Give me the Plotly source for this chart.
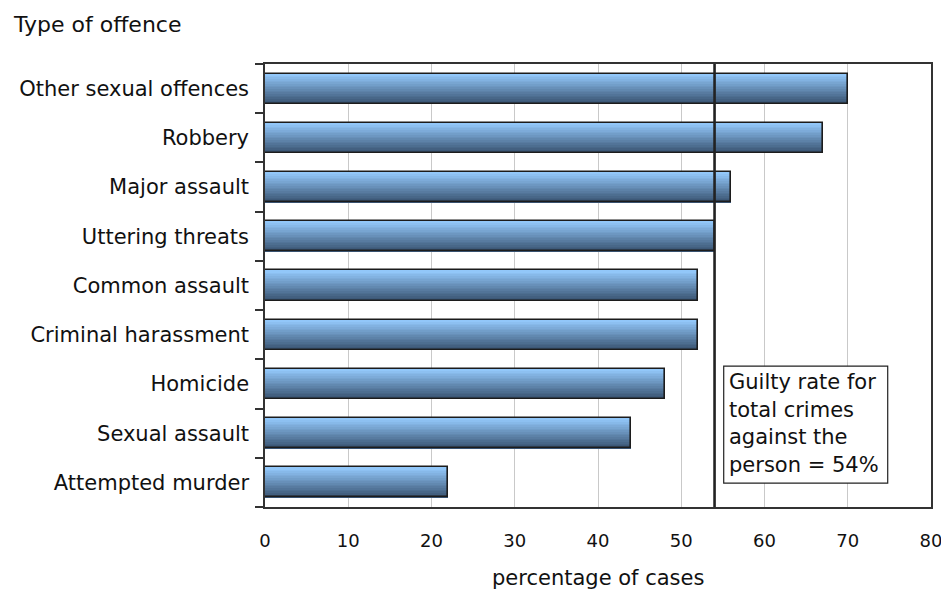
import plotly.graph_objects as go

# Offence categories, listed bottom to top as they appear on the axis
offences = [
    "Attempted murder",
    "Sexual assault",
    "Homicide",
    "Criminal harassment",
    "Common assault",
    "Uttering threats",
    "Major assault",
    "Robbery",
    "Other sexual offences",
]
guilty_pct = [22, 44, 48, 52, 52, 54, 56, 67, 70]
overall_rate = 54
x_ticks = [0, 10, 20, 30, 40, 50, 60, 70, 80]
note_lines = ["Guilty rate for", "total crimes", "against the", "person = 54%"]

FONT = "DejaVu Sans, Verdana, sans-serif"
FS = 21
BAR_W = 0.61
N_BANDS = 18
TOP_RGB = (146, 199, 249)
BOT_RGB = (56, 82, 112)

fig = go.Figure()

# Vertical gradient fill: stacked thin bands per bar, light at top, dark at bottom
for i in range(N_BANDS):
    t = i / (N_BANDS - 1)
    rgb = tuple(round(b + (a - b) * t) for a, b in zip(TOP_RGB, BOT_RGB))
    fig.add_trace(go.Bar(
        x=guilty_pct, y=offences, orientation="h",
        width=BAR_W / N_BANDS * 1.05,
        offset=-BAR_W / 2 + i * BAR_W / N_BANDS,
        marker=dict(color="rgb(%d,%d,%d)" % rgb, line=dict(width=0)),
        hoverinfo="skip", showlegend=False,
    ))

# Bar outlines
fig.add_trace(go.Bar(
    x=guilty_pct, y=offences, orientation="h", width=BAR_W,
    marker=dict(color="rgba(0,0,0,0)", line=dict(color="#1c1c1c", width=1.6)),
    showlegend=False,
))

# Reference line for the overall rate
fig.add_shape(type="line", xref="x", yref="paper", x0=overall_rate, x1=overall_rate,
              y0=0, y1=1, line=dict(color="#222222", width=2.6), layer="above")

# Note box next to the reference line
fig.add_shape(type="rect", xref="x", yref="paper", x0=55.1, x1=74.8,
              y0=0.054, y1=0.318, line=dict(color="#222222", width=1.2),
              fillcolor="white", layer="above")
line_y = [0.282, 0.219, 0.158, 0.095]
for txt, yy in zip(note_lines, line_y):
    fig.add_annotation(text=txt, xref="x", yref="paper", x=55.5, y=yy,
                       xanchor="left", yanchor="middle", showarrow=False,
                       font=dict(family=FONT, size=FS, color="#111111"))

# Axis titles
fig.add_annotation(text="Type of offence", xref="paper", yref="paper",
                   x=-254 / 666, y=(507 - 25) / 443, xanchor="left", yanchor="middle",
                   showarrow=False, font=dict(family=FONT, size=22, color="#111111"))
fig.add_annotation(text="percentage of cases", xref="paper", yref="paper",
                   x=0.5, y=-(578 - 507) / 443, xanchor="center", yanchor="middle",
                   showarrow=False, font=dict(family=FONT, size=FS, color="#111111"))

fig.update_layout(
    width=941, height=597,
    margin=dict(l=265, r=10, t=64, b=90, autoexpand=False),
    paper_bgcolor="white", plot_bgcolor="white",
    barmode="overlay", bargap=0,
    font=dict(family=FONT, size=FS, color="#111111"),
    showlegend=False,
)
fig.update_xaxes(
    range=[0, 80], tickvals=x_ticks, ticks="", showgrid=True,
    gridcolor="#c9c9c9", gridwidth=1, zeroline=False,
    showline=True, linecolor="#333333", linewidth=1.5, mirror=True,
    ticklabelstandoff=17, fixedrange=True, automargin=False,
    ticklabeloverflow="allow", tickfont=dict(size=18),
)
fig.update_yaxes(
    categoryorder="array", categoryarray=offences, tickson="boundaries",
    ticks="outside", ticklen=8, tickcolor="#333333", tickwidth=1.5,
    showgrid=False, zeroline=False,
    showline=True, linecolor="#333333", linewidth=1.5, mirror=True,
    ticklabelstandoff=10, fixedrange=True, automargin=False,
)

fig.write_html("out.html")
